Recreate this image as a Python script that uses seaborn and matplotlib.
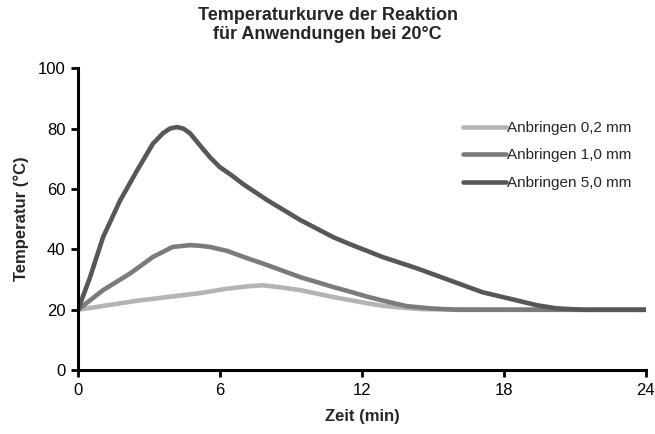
import matplotlib
matplotlib.use("Agg")
import matplotlib.pyplot as plt
import seaborn as sns
import pandas as pd

# Werte (Zeit in min, Temperatur in °C)
zeit_02 = [0, 2.5, 4.6, 5.15, 6.3, 6.55, 7.2, 7.8, 8.4, 9.4, 10.8, 11.5, 12.2, 12.9, 13.6, 14.5, 24]
temp_02 = [20, 23, 25, 25.5, 27, 27.2, 27.8, 28.1, 27.6, 26.5, 24.2, 23.2, 22.2, 21.3, 20.8, 20.2, 20]

zeit_10 = [0, 1.06, 2.2, 3.17, 4.0, 4.73, 5.15, 5.58, 6.3, 7.0, 8.0, 9.4, 10.8, 11.5, 12.2, 12.9, 13.9, 15.0, 16.0, 24]
temp_10 = [20, 26.5, 32, 37.5, 40.8, 41.4, 41.2, 40.8, 39.5, 37.5, 34.8, 30.8, 27.5, 26.0, 24.4, 23.0, 21.2, 20.4, 20, 20]

zeit_50 = [0, 0.5, 1.06, 1.77, 2.49, 3.17, 3.6, 3.89, 4.18, 4.45, 4.73, 5.15, 5.58, 6.0, 6.5, 7.0, 8.0,
           9.4, 10.8, 11.5, 12.9, 14.3, 15.7, 17.1, 18.5, 19.4, 20.2, 21.3, 24]
temp_50 = [20, 30.5, 44, 56, 66, 75, 78.5, 80, 80.5, 80, 78.5, 74.5, 70.5, 67.2, 64.5, 61.5, 56.3,
           49.7, 44, 41.7, 37.4, 33.8, 29.8, 25.8, 23.2, 21.5, 20.5, 20, 20]

labels = ["Anbringen 0,2 mm", "Anbringen 1,0 mm", "Anbringen 5,0 mm"]
farben = ["#b4b4b4", "#7b7b7b", "#575757"]

df = pd.concat([
    pd.DataFrame({"Zeit": zeit_02, "Temp": temp_02, "Serie": labels[0]}),
    pd.DataFrame({"Zeit": zeit_10, "Temp": temp_10, "Serie": labels[1]}),
    pd.DataFrame({"Zeit": zeit_50, "Temp": temp_50, "Serie": labels[2]}),
])

sns.set_style("white")
plt.rcParams["font.family"] = ["Liberation Sans", "DejaVu Sans"]

fig = plt.figure(figsize=(6.55, 4.34), dpi=100)
ax = fig.add_axes([0.119, 0.147, 0.867, 0.696])

sns.lineplot(data=df, x="Zeit", y="Temp", hue="Serie", palette=farben,
             hue_order=labels, linewidth=3.3, ax=ax, sort=False,
             solid_capstyle="round", solid_joinstyle="round")

ax.set_xlim(0, 24)
ax.set_ylim(0, 100)
ax.set_xticks([0, 6, 12, 18, 24])
ax.set_yticks([0, 20, 40, 60, 80, 100])
ax.tick_params(axis="both", direction="out", length=5, width=2, labelsize=12,
               color="black", labelcolor="black", left=True, bottom=True, pad=4)

for s in ["top", "right"]:
    ax.spines[s].set_visible(False)
for s in ["left", "bottom"]:
    ax.spines[s].set_linewidth(2.2)
    ax.spines[s].set_color("black")

ax.set_xlabel("Zeit (min)", fontsize=12, fontweight="bold", labelpad=8)
ax.set_ylabel("Temperatur (°C)", fontsize=12, fontweight="bold", labelpad=6)
fig.suptitle("Temperaturkurve der Reaktion\nfür Anwendungen bei 20°C",
             fontsize=13, fontweight="bold", x=0.5, y=0.985, va="top")

leg = ax.legend(loc="upper left", bbox_to_anchor=(463 / 655, 1 - 121 / 434),
                bbox_transform=fig.transFigure, frameon=False, fontsize=11,
                handlelength=2.8, handletextpad=0.05, labelspacing=0.88,
                borderpad=0, borderaxespad=0)
for line in leg.get_lines():
    line.set_linewidth(3.3)

fig.savefig("out.png", dpi=100)
